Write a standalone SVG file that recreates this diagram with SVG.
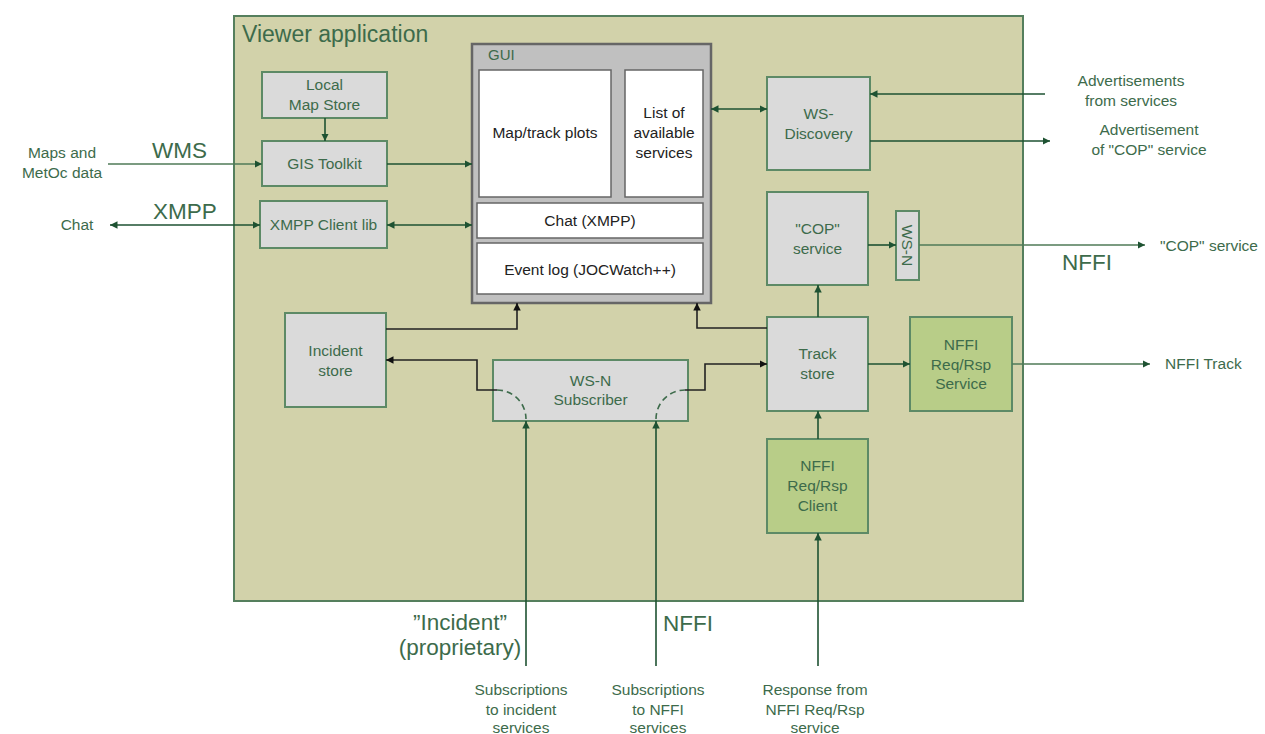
<svg xmlns="http://www.w3.org/2000/svg" width="1265" height="734" viewBox="0 0 1265 734">
  <style>
    text { font-family: "Liberation Sans", Arial, sans-serif; fill: #3d6b4b; }
    .box { fill: #dadada; stroke: #5d8a66; stroke-width: 2; }
    .gbox { fill: #b8cd88; stroke: #5d8a66; stroke-width: 2; }
    .wbox { fill: #ffffff; stroke: #666666; stroke-width: 1.5; }
    .lbl { font-size: 15.5px; text-anchor: middle; }
    .dark { fill: #222222; }
    .big { font-size: 22.5px; }
    .ext { font-size: 15.5px; text-anchor: middle; }
    .g { stroke: #1e5232; stroke-width: 1.6; fill: none; }
    .gl { stroke: #4f7a57; stroke-width: 1.6; fill: none; }
    .k { stroke: #222222; stroke-width: 1.6; fill: none; }
    .dash { stroke: #3d6b4b; stroke-width: 1.6; fill: none; stroke-dasharray: 6 4; }
  </style>
  <defs>
    <marker id="ag" viewBox="0 0 10 10" refX="10" refY="5" markerWidth="7.5" markerHeight="7.5" markerUnits="userSpaceOnUse" orient="auto-start-reverse">
      <path d="M0,0 L10,5 L0,10 z" fill="#1e5232"/>
    </marker>
    <marker id="ak" viewBox="0 0 10 10" refX="10" refY="5" markerWidth="7.5" markerHeight="7.5" markerUnits="userSpaceOnUse" orient="auto-start-reverse">
      <path d="M0,0 L10,5 L0,10 z" fill="#111111"/>
    </marker>
  </defs>

  <rect width="1265" height="734" fill="#ffffff"/>

  <!-- application boundary -->
  <g id="viewer-application">
    <rect x="234" y="16" width="789" height="585" fill="#d2d2aa" stroke="#557f5d" stroke-width="2"/>
    <text x="242" y="42" font-size="23">Viewer application</text>
  </g>

  <!-- GUI -->
  <g id="gui">
    <rect x="472" y="44" width="239" height="259" fill="#c0c0c0" stroke="#666666" stroke-width="2.5"/>
    <text x="488" y="60" font-size="15">GUI</text>
    <rect class="wbox" x="479" y="70" width="132" height="127"/>
    <text class="lbl dark" x="545" y="138">Map/track plots</text>
    <rect class="wbox" x="625" y="70" width="78" height="127"/>
    <text class="lbl dark" x="664" y="118">List of</text>
    <text class="lbl dark" x="664" y="138">available</text>
    <text class="lbl dark" x="664" y="158">services</text>
    <rect class="wbox" x="477" y="203" width="226" height="35"/>
    <text class="lbl dark" x="590" y="226">Chat (XMPP)</text>
    <rect class="wbox" x="477" y="243" width="226" height="51"/>
    <text class="lbl dark" x="590" y="275">Event log (JOCWatch++)</text>
  </g>

  <g id="local-map-store">
    <rect class="box" x="262" y="72" width="125" height="46"/>
    <text class="lbl" x="324.5" y="90">Local</text>
    <text class="lbl" x="324.5" y="110">Map Store</text>
  </g>
  <g id="gis-toolkit">
    <rect class="box" x="262" y="141" width="125" height="45"/>
    <text class="lbl" x="324.5" y="169">GIS Toolkit</text>
  </g>
  <g id="xmpp-client-lib">
    <rect class="box" x="260" y="201" width="127" height="47"/>
    <text class="lbl" x="323.5" y="230">XMPP Client lib</text>
  </g>
  <g id="incident-store">
    <rect class="box" x="285" y="313" width="101" height="94"/>
    <text class="lbl" x="335.5" y="356">Incident</text>
    <text class="lbl" x="335.5" y="376">store</text>
  </g>
  <g id="wsn-subscriber">
    <rect class="box" x="493" y="360" width="195" height="61"/>
    <text class="lbl" x="590.5" y="386">WS-N</text>
    <text class="lbl" x="590.5" y="405">Subscriber</text>
  </g>
  <g id="ws-discovery">
    <rect class="box" x="767" y="77" width="103" height="93"/>
    <text class="lbl" x="818.5" y="119">WS-</text>
    <text class="lbl" x="818.5" y="139">Discovery</text>
  </g>
  <g id="cop-service">
    <rect class="box" x="767" y="192" width="101" height="93"/>
    <text class="lbl" x="817.5" y="234">"COP"</text>
    <text class="lbl" x="817.5" y="254">service</text>
  </g>
  <g id="wsn-publisher">
    <rect class="box" x="896" y="211" width="23" height="69"/>
    <text class="lbl" transform="translate(902,245.5) rotate(90)">WS-N</text>
  </g>
  <g id="track-store">
    <rect class="box" x="767" y="317" width="101" height="94"/>
    <text class="lbl" x="817.5" y="359">Track</text>
    <text class="lbl" x="817.5" y="379">store</text>
  </g>
  <g id="nffi-service">
    <rect class="gbox" x="910" y="317" width="102" height="94"/>
    <text class="lbl" x="961" y="350">NFFI</text>
    <text class="lbl" x="961" y="370">Req/Rsp</text>
    <text class="lbl" x="961" y="389">Service</text>
  </g>
  <g id="nffi-client">
    <rect class="gbox" x="767" y="439" width="101" height="94"/>
    <text class="lbl" x="817.5" y="471">NFFI</text>
    <text class="lbl" x="817.5" y="491">Req/Rsp</text>
    <text class="lbl" x="817.5" y="511">Client</text>
  </g>

  <!-- connectors -->
  <g id="connectors">
    <line class="g" x1="325" y1="118" x2="325" y2="141" marker-end="url(#ag)"/>
    <line class="gl" x1="108" y1="164" x2="262" y2="164" marker-end="url(#ag)"/>
    <line class="g" x1="387" y1="164" x2="472" y2="164" marker-end="url(#ag)"/>
    <line class="g" x1="110" y1="225" x2="260" y2="225" marker-start="url(#ag)" marker-end="url(#ag)"/>
    <line class="g" x1="387" y1="225" x2="472" y2="225" marker-start="url(#ag)" marker-end="url(#ag)"/>
    <line class="g" x1="711" y1="109" x2="767" y2="109" marker-start="url(#ag)" marker-end="url(#ag)"/>
    <line class="g" x1="1045" y1="94" x2="870" y2="94" marker-end="url(#ag)"/>
    <line class="g" x1="870" y1="141" x2="1050" y2="141" marker-end="url(#ag)"/>
    <line class="g" x1="868" y1="245" x2="896" y2="245" marker-end="url(#ag)"/>
    <line class="gl" x1="919" y1="245" x2="1145" y2="245" marker-end="url(#ag)"/>
    <line class="g" x1="818" y1="317" x2="818" y2="285" marker-end="url(#ag)"/>
    <line class="g" x1="868" y1="364" x2="910" y2="364" marker-end="url(#ag)"/>
    <line class="gl" x1="1012" y1="364" x2="1150" y2="364" marker-end="url(#ag)"/>
    <line class="g" x1="818" y1="439" x2="818" y2="411" marker-end="url(#ag)"/>
    <line class="g" x1="818" y1="666" x2="818" y2="533" marker-end="url(#ag)"/>
    <polyline class="k" points="386,329 517,329 517,303" marker-end="url(#ak)"/>
    <polyline class="k" points="767,328 697,328 697,303" marker-end="url(#ak)"/>
    <polyline class="k" points="497,390 477,390 477,360 386,360" marker-end="url(#ak)"/>
    <polyline class="k" points="685,390 705,390 705,364 767,364" marker-end="url(#ak)"/>
    <path class="dash" d="M497,390 A29,29 0 0 1 526,419"/>
    <path class="dash" d="M656,419 A29,29 0 0 1 685,390"/>
    <line class="g" x1="526" y1="666" x2="526" y2="421" marker-end="url(#ag)"/>
    <line class="g" x1="656" y1="666" x2="656" y2="421" marker-end="url(#ag)"/>
  </g>

  <!-- external labels -->
  <g id="external-labels">
    <text class="ext" x="62" y="158">Maps and</text>
    <text class="ext" x="62" y="178">MetOc data</text>
    <text class="big" x="152" y="158">WMS</text>
    <text class="big" x="153" y="219">XMPP</text>
    <text class="ext" x="77" y="230">Chat</text>
    <text class="ext" x="1131" y="86">Advertisements</text>
    <text class="ext" x="1131" y="106">from services</text>
    <text class="ext" x="1149" y="135">Advertisement</text>
    <text class="ext" x="1149" y="155">of "COP" service</text>
    <text x="1160" y="251" font-size="15.5">"COP" service</text>
    <text class="big" x="1062" y="270">NFFI</text>
    <text x="1165" y="369" font-size="15.5">NFFI Track</text>
    <text class="big" x="460" y="630" text-anchor="middle">”Incident”</text>
    <text class="big" x="460" y="655" text-anchor="middle">(proprietary)</text>
    <text class="big" x="663" y="631">NFFI</text>
    <text class="ext" x="521" y="695">Subscriptions</text>
    <text class="ext" x="521" y="715">to incident</text>
    <text class="ext" x="521" y="733">services</text>
    <text class="ext" x="658" y="695">Subscriptions</text>
    <text class="ext" x="658" y="715">to NFFI</text>
    <text class="ext" x="658" y="733">services</text>
    <text class="ext" x="815" y="695">Response from</text>
    <text class="ext" x="815" y="715">NFFI Req/Rsp</text>
    <text class="ext" x="815" y="733">service</text>
  </g>
</svg>
